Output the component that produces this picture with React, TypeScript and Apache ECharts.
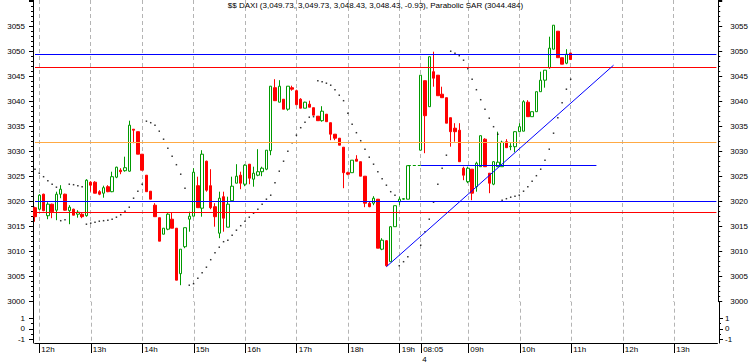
import React, { useEffect, useRef } from 'react';
import * as echarts from 'echarts';

const FONT = "'Liberation Sans', Arial, Helvetica, sans-serif";

const titleText =
  '$$ DAXI (3,049.73, 3,049.73, 3,048.43, 3,048.43, -0.93), Parabolic SAR (3044.484)';

// 5-minute sessions: day 3 from 11:55 (90 bars), day 4 from 08:05 (70 bars)
function sessionTimes(day: number, h: number, m: number, count: number): string[] {
  const out: string[] = [];
  for (let k = 0; k < count; k++) {
    const t = h * 60 + m + 5 * k;
    out.push(`${day} ${String(Math.floor(t / 60)).padStart(2, '0')}:${String(t % 60).padStart(2, '0')}`);
  }
  return out;
}
const dayOneBars = sessionTimes(3, 11, 55, 90);
const dayTwoBars = sessionTimes(4, 8, 5, 70);
const categories = [...dayOneBars, ...dayTwoBars];
const dayTwoStart = dayOneBars.length;

// OHLC of the 5-minute bars (null = no bar)
const open = [
  3018.8, 3018.5, 3021.5, 3017.2, 3019.5, 3018.3, 3021.5, 3021.5, 3018.2, 3018.5,
  3017.5, 3017.5, 3017.2, 3023.9, 3023.9, 3022.0, 3021.7, 3023.0, 3022.0, 3024.9,
  3026.3, 3026.2, 3026.1, 3034.5, 3034.0, 3029.5, 3025.3, 3022.1, 3019.3, 3016.8,
  3013.5, 3014.5, 3016.5, 3014.7, 3005.6, 3011.0, 3016.5, 3017.1, 3023.2, 3018.7,
  3028.1, 3023.2, 3019.0, 3013.7, 3021.0, 3014.9, 3020.2, 3023.7, 3025.3, 3023.5,
  3027.5, 3024.5, 3025.3, 3026.0, 3026.5, 3030.2, 3042.8, 3039.9, 3040.5, 3038.5,
  3042.8, 3042.2, 3040.5, 3038.7, 3039.5, 3038.8, 3037.1, 3036.2, 3037.5, 3035.8,
  3033.5, 3032.7, 3030.9, 3025.8, 3025.8, 3028.5, 3028.0, 3025.1, 3019.7, 3019.7,
  3020.5, 3010.5, 3012.2, 3008.0, 3015.0, 3020.0, 3020.5, 3020.5, null, null,
  3030.3, 3044.2, 3039.0, 3046.0, 3045.3, 3041.5, 3040.8, 3036.8, 3034.7, 3034.3,
  3026.7, 3024.0, 3026.5, 3023.0, 3027.0, 3032.5, 3025.7, 3023.5, 3027.0, 3027.0,
  3032.0, 3031.0, 3031.0, 3034.0, 3034.1, 3039.9, 3037.0, 3038.0, 3042.0, 3044.3,
  3046.8, 3050.5, 3054.1, 3048.8, 3047.7, 3049.73,
];
const high = [
  3019.0, 3021.5, 3021.6, 3019.9, 3019.6, 3022.0, 3023.3, 3021.6, 3019.3, 3018.6,
  3018.3, 3017.7, 3024.5, 3024.1, 3024.1, 3022.3, 3023.2, 3023.3, 3026.0, 3027.0,
  3026.7, 3029.0, 3036.2, 3034.5, 3034.0, 3029.5, 3025.3, 3022.1, 3019.7, 3016.8,
  3014.7, 3017.7, 3017.9, 3014.7, 3010.5, 3014.8, 3018.0, 3026.7, 3025.0, 3030.3,
  3028.2, 3026.5, 3019.7, 3022.0, 3022.0, 3021.0, 3025.0, 3027.5, 3026.0, 3027.5,
  3027.5, 3027.0, 3030.5, 3027.0, 3030.3, 3043.1, 3044.5, 3044.3, 3040.5, 3043.1,
  3043.2, 3042.4, 3040.7, 3040.0, 3040.2, 3038.8, 3037.1, 3039.1, 3037.5, 3035.8,
  3033.5, 3032.7, 3030.9, 3026.0, 3028.3, 3029.3, 3028.0, 3025.1, 3020.0, 3021.1,
  3020.5, 3012.7, 3012.3, 3015.1, 3019.2, 3021.0, 3020.7, 3027.2, null, null,
  3045.3, 3044.2, 3049.0, 3050.0, 3045.3, 3043.0, 3040.8, 3036.8, 3035.7, 3035.7,
  3027.0, 3027.0, 3026.5, 3028.0, 3033.2, 3032.7, 3025.7, 3028.1, 3034.0, 3032.2,
  3032.5, 3031.7, 3034.1, 3035.7, 3040.3, 3040.3, 3038.0, 3042.0, 3046.0, 3046.3,
  3053.0, 3055.3, 3054.1, 3048.8, 3050.5, 3049.73,
];
const low = [
  3016.0, 3018.3, 3018.1, 3016.5, 3016.7, 3016.3, 3020.7, 3018.2, 3015.5, 3017.3,
  3016.8, 3016.7, 3017.0, 3022.0, 3021.7, 3021.3, 3020.8, 3021.9, 3021.9, 3024.7,
  3025.5, 3026.0, 3026.0, 3031.7, 3029.5, 3026.3, 3022.0, 3020.5, 3017.0, 3012.1,
  3013.5, 3014.3, 3014.7, 3004.3, 3003.3, 3010.7, 3014.0, 3017.1, 3018.8, 3017.0,
  3022.0, 3018.5, 3015.0, 3012.7, 3014.0, 3014.9, 3020.2, 3023.7, 3022.5, 3023.1,
  3023.5, 3023.0, 3025.1, 3025.1, 3026.3, 3029.3, 3040.2, 3039.9, 3038.5, 3038.2,
  3042.2, 3039.4, 3038.7, 3038.7, 3038.9, 3037.3, 3036.2, 3036.0, 3036.0, 3032.3,
  3032.3, 3031.3, 3022.7, 3025.3, 3025.8, 3028.1, 3025.1, 3018.9, 3018.9, 3019.3,
  3010.7, 3010.3, 3007.0, 3008.0, 3015.0, 3019.3, 3020.4, 3020.5, null, null,
  3030.3, 3029.7, 3039.0, 3043.0, 3041.2, 3040.8, 3035.7, 3031.0, 3032.0, 3028.0,
  3024.3, 3023.7, 3020.3, 3022.0, 3027.0, 3027.0, 3021.7, 3023.3, 3027.0, 3027.0,
  3030.8, 3030.3, 3029.9, 3033.9, 3034.1, 3037.0, 3037.0, 3038.0, 3042.0, 3042.8,
  3046.6, 3050.5, 3048.8, 3047.5, 3047.5, 3048.43,
];
const close = [
  3017.0, 3021.3, 3018.2, 3019.5, 3018.0, 3021.5, 3022.5, 3018.3, 3018.9, 3017.3,
  3017.9, 3017.0, 3024.3, 3023.3, 3021.7, 3021.5, 3022.8, 3022.0, 3025.0, 3026.9,
  3026.0, 3026.8, 3035.3, 3034.3, 3029.5, 3026.3, 3022.0, 3020.5, 3017.0, 3012.1,
  3014.7, 3017.5, 3014.7, 3004.3, 3010.5, 3014.8, 3017.1, 3025.9, 3018.8, 3029.5,
  3022.3, 3018.8, 3017.0, 3020.7, 3016.7, 3019.5, 3023.1, 3025.1, 3023.7, 3027.3,
  3024.7, 3025.7, 3026.0, 3026.7, 3030.3, 3043.1, 3040.2, 3043.1, 3038.5, 3043.1,
  3042.5, 3039.4, 3038.7, 3039.9, 3038.9, 3037.3, 3036.2, 3038.1, 3036.0, 3033.5,
  3032.7, 3031.3, 3025.8, 3025.5, 3028.3, 3028.1, 3025.1, 3019.7, 3019.0, 3020.7,
  3010.7, 3012.3, 3007.2, 3015.0, 3019.2, 3020.5, 3020.6, 3027.2, null, null,
  3045.3, 3037.2, 3049.0, 3044.7, 3041.2, 3040.8, 3035.7, 3034.0, 3034.0, 3028.0,
  3025.3, 3026.7, 3021.7, 3027.7, 3033.2, 3027.0, 3023.7, 3028.0, 3027.9, 3031.9,
  3030.8, 3031.1, 3034.0, 3035.0, 3040.0, 3037.0, 3038.0, 3042.0, 3044.3, 3046.3,
  3050.7, 3055.3, 3048.8, 3047.5, 3049.5, 3048.43,
];

// Parabolic SAR per bar
const sar = [
  3026.5, 3025.7, 3025.0, 3024.2, 3023.5, 3022.9, 3016.2, 3016.4, 3023.5, 3023.4,
  3023.2, 3023.0, 3015.5, 3015.7, 3015.9, 3016.1, 3016.2, 3016.3, 3016.5, 3016.9,
  3017.4, 3018.1, 3018.9, 3020.7, 3022.1, 3023.5, 3036.1, 3035.8, 3035.3, 3034.1,
  3032.5, 3030.7, 3029.1, 3027.4, 3025.5, 3022.7, 3003.3, 3003.6, 3004.7, 3005.8,
  3006.9, 3008.4, 3009.8, 3010.9, 3012.0, 3012.3, 3013.3, 3014.3, 3015.2, 3016.1,
  3016.9, 3017.7, 3018.5, 3019.5, 3020.5, 3021.3, 3023.8, 3026.1, 3028.1, 3030.1,
  3031.8, 3033.3, 3034.8, 3035.9, 3036.9, 3037.0, 3044.2, 3044.0, 3043.7, 3043.3,
  3042.4, 3041.3, 3040.2, 3037.7, 3035.5, 3033.8, 3032.2, 3030.5, 3028.9, 3027.5,
  3026.0, 3024.6, 3023.3, 3022.0, 3021.3, 3007.2, 3008.0, 3009.0, null, null,
  3011.3, 3014.0, 3016.5, 3019.9, 3023.5, 3026.7, 3029.3, 3050.1, 3049.7, 3049.2,
  3048.3, 3046.6, 3044.5, 3042.4, 3040.4, 3038.5, 3036.7, 3035.0, 3033.5, 3020.3,
  3020.6, 3020.9, 3021.1, 3021.3, 3022.1, 3023.0, 3024.1, 3025.2, 3026.5, 3028.3,
  3030.5, 3033.7, 3036.8, 3039.8, 3042.5, 3044.484,
];

// Horizontal study lines
const levelLines = [
  { value: 3049.5, color: '#0000ff' },
  { value: 3046.9, color: '#ff0000' },
  { value: 3031.9, color: '#ffaa44' },
  { value: 3020.0, color: '#0000ff' },
  { value: 3017.9, color: '#ff0000' },
];
// Trend line and short level segments: [startBar, startValue, endBar, endValue]
const trendLine = [82, 3007.0, 135, 3047.3];
const shortLevel = [90, 3027.2, 131, 3027.2];
const gapLine = [87, 3027.2, 90, 3027.2];

const GREEN = '#009900';
const RED = '#ff0000';
const GRID_COLOR = '#b4b4b4';

const timeOf = (v: string) => v.split(' ')[1];
const isGridBar = (index: number, value: string) =>
  timeOf(value).endsWith(':00') || index === dayTwoStart;
const fmtTime = (value: string) => {
  const t = timeOf(value);
  return t.endsWith(':00') ? `${t.slice(0, 2)}h` : t;
};

export default function App() {
  const ref = useRef<HTMLDivElement>(null);
  useEffect(() => {
    if (!ref.current) return;
    const chart = echarts.init(ref.current, undefined, { renderer: 'svg' });

    const candleData = open.map((o, i) =>
      o == null ? ['-', '-', '-', '-'] : [o, close[i], low[i], high[i]]
    );
    const sarData = sar.map((v) => (v == null ? '-' : v));

    const L = 35;
    const R = 33.8;
    const mainTop = 0;
    const mainH = 301.7;
    const pxPerPoint = 5;
    const mainMin = 3000;
    const mainMax = mainMin + mainH / pxPerPoint;

    const splitLine = {
      show: true,
      interval: isGridBar,
      lineStyle: { color: GRID_COLOR, width: 1, type: [4, 3] },
    };
    const textBase = { fontSize: 8, color: '#000', fontFamily: FONT };

    const mainY = (pos: 'left' | 'right') => ({
      gridIndex: 0,
      type: 'value',
      position: pos,
      offset: pos === 'left' ? 2 : 1.8,
      min: mainMin,
      max: mainMax,
      interval: 5,
      axisLine: { show: true, lineStyle: { color: '#000', width: 1 } },
      axisTick: { show: true, length: 4, lineStyle: { color: '#000' } },
      minorTick: { show: true, splitNumber: 5, length: 2, lineStyle: { color: '#000' } },
      splitLine: { show: false },
      axisLabel: {
        ...textBase,
        margin: pos === 'left' ? 8 : 12,
        formatter: (v: number) => (v > 3057 ? '' : String(v)),
      },
    });
    const frameY = (pos: 'left' | 'right') => ({
      gridIndex: 1,
      type: 'value',
      position: pos,
      offset: pos === 'left' ? 2 : 1.8,
      min: 0,
      max: 1,
      axisLine: { show: true, lineStyle: { color: '#000', width: 1 } },
      axisTick: { show: false },
      axisLabel: { show: false },
      splitLine: { show: false },
    });
    const paneY = (pos: 'left' | 'right') => ({
      gridIndex: 2,
      type: 'value',
      position: pos,
      offset: pos === 'left' ? 2 : 1.8,
      min: -1,
      max: 1,
      interval: 1,
      axisLine: { show: false },
      axisTick: { show: true, length: 4, lineStyle: { color: '#000' } },
      minorTick: { show: true, splitNumber: 2, length: 2, lineStyle: { color: '#000' } },
      splitLine: { show: false },
      axisLabel: { ...textBase, margin: pos === 'left' ? 8 : 6 },
    });

    const seg = (s: number[], color: string, type: any = 'solid') => [
      { coord: [s[0], s[1]], lineStyle: { color, width: 1, type } },
      { coord: [s[2], s[3]] },
    ];

    chart.setOption({
      animation: false,
      backgroundColor: '#ffffff',
      title: {
        text: titleText,
        left: 'center',
        top: 1,
        padding: 0,
        textStyle: { ...textBase, fontWeight: 'normal' },
      },
      grid: [
        { left: L, right: R, top: mainTop, height: mainH },
        { left: L, right: R, top: mainTop + mainH, height: 343 - (mainTop + mainH) },
        { left: L, right: R, top: 318.3, height: 21 },
      ],
      xAxis: [
        {
          gridIndex: 0,
          type: 'category',
          data: categories,
          boundaryGap: false,
          axisLine: { show: false },
          axisTick: { show: false },
          axisLabel: { show: false },
          splitLine,
        },
        {
          gridIndex: 1,
          type: 'category',
          data: categories,
          boundaryGap: false,
          position: 'bottom',
          axisLine: { show: true, lineStyle: { color: '#000', width: 1 } },
          axisTick: { show: true, interval: isGridBar, length: 10, lineStyle: { color: '#000' } },
          axisLabel: {
            ...textBase,
            interval: isGridBar,
            formatter: fmtTime,
            align: 'left',
            padding: [0, 0, 0, 2],
            margin: 2,
          },
          splitLine,
        },
        {
          gridIndex: 1,
          type: 'category',
          data: categories,
          boundaryGap: false,
          position: 'bottom',
          offset: 10,
          axisLine: { show: true, lineStyle: { color: '#000', width: 1 } },
          axisTick: {
            show: true,
            interval: (i: number) => i === dayTwoStart,
            length: 4,
            lineStyle: { color: '#000' },
          },
          axisLabel: {
            ...textBase,
            interval: (i: number) => i === dayTwoStart,
            formatter: (v: string) => v.split(' ')[0],
            align: 'left',
            padding: [0, 0, 0, 1],
            margin: 2,
          },
          splitLine: { show: false },
        },
        { gridIndex: 2, type: 'category', data: categories, boundaryGap: false, show: false },
      ],
      yAxis: [mainY('left'), mainY('right'), frameY('left'), frameY('right'), paneY('left'), paneY('right')],
      series: [
        {
          name: '$$ DAXI',
          type: 'candlestick',
          xAxisIndex: 0,
          yAxisIndex: 0,
          data: candleData,
          barWidth: 3,
          clip: false,
          emphasis: { disabled: true },
          itemStyle: {
            color: '#ffffff',
            color0: RED,
            borderColor: GREEN,
            borderColor0: RED,
            borderWidth: 1,
          },
          markLine: {
            silent: true,
            symbol: ['none', 'none'],
            label: { show: false },
            emphasis: { disabled: true },
            data: [
              ...levelLines.map((l) => ({
                yAxis: l.value,
                lineStyle: { color: l.color, width: 1, type: 'solid' },
              })),
              seg(trendLine, '#0000ff'),
              seg(shortLevel, '#0000ff'),
              seg(gapLine, GREEN, [3, 2]),
            ],
          },
        },
        {
          name: 'Parabolic SAR',
          type: 'scatter',
          xAxisIndex: 0,
          yAxisIndex: 0,
          data: sarData,
          symbol: 'rect',
          symbolSize: 1.5,
          itemStyle: { color: '#000000' },
          emphasis: { disabled: true },
          silent: true,
        },
      ],
    });
    return () => chart.dispose();
  }, []);

  return (
    <div
      ref={ref}
      style={{ position: 'fixed', left: 0, top: 0, width: 751, height: 363, background: '#fff' }}
    />
  );
}
